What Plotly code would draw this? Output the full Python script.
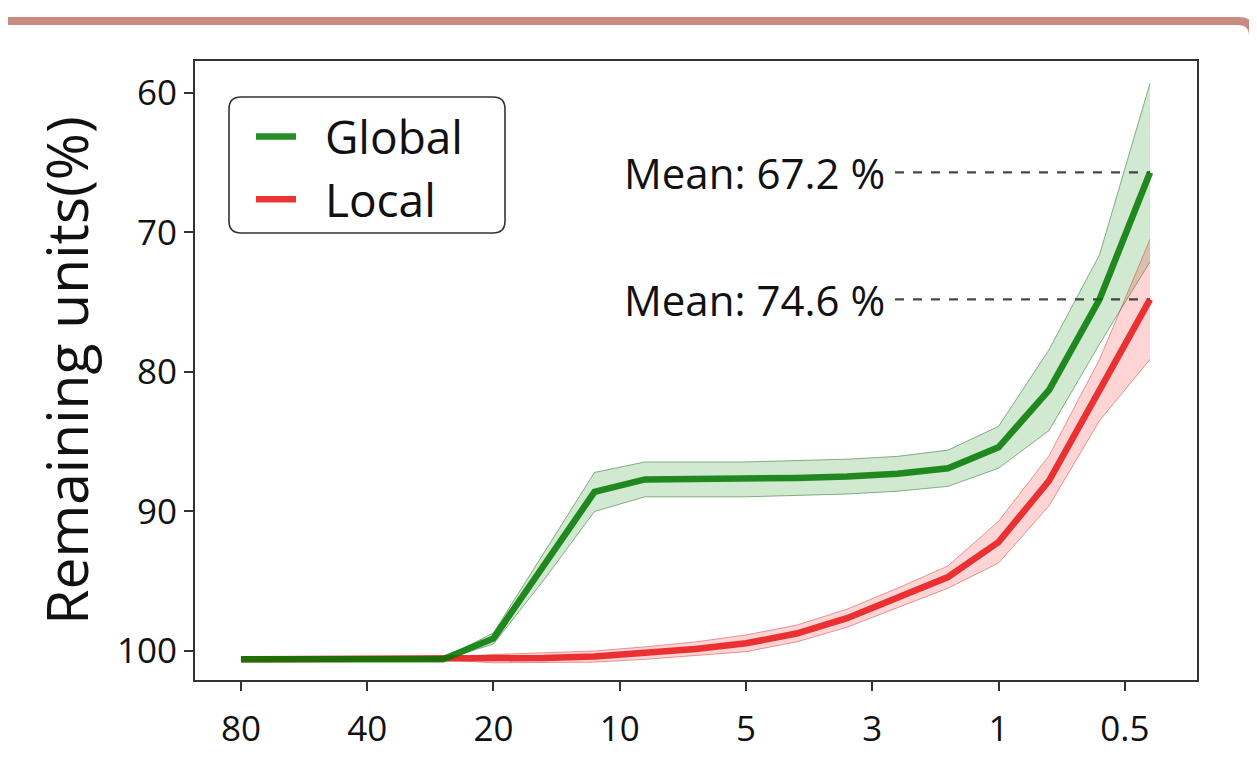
import plotly.graph_objects as go

# ---- data ----
x_index = list(range(19))
tick_pos = [0, 2.5, 5, 7.5, 10, 12.5, 15, 17.5]
tick_labels = ["80", "40", "20", "10", "5", "3", "1", "0.5"]

global_mean = [100.6, 100.6, 100.6, 100.6, 100.6, 99.1, 93.9, 88.6, 87.7, 87.7,
               87.7, 87.6, 87.5, 87.3, 86.9, 85.4, 81.3, 74.8, 65.7]
global_err = [0.0, 0.0, 0.0, 0.0, 0.05, 0.4, 1.0, 1.4, 1.25, 1.25,
              1.25, 1.25, 1.25, 1.25, 1.3, 1.5, 2.9, 3.2, 6.4]
local_mean = [100.6, 100.6, 100.6, 100.6, 100.6, 100.55, 100.5, 100.4, 100.15, 99.85,
              99.45, 98.75, 97.65, 96.2, 94.7, 92.2, 87.8, 81.3, 74.8]
local_err = [0.0, 0.0, 0.0, 0.0, 0.05, 0.3, 0.35, 0.4, 0.45, 0.5,
             0.6, 0.6, 0.65, 0.7, 0.8, 1.5, 1.8, 2.2, 4.3]

mean_labels = ["Mean: 67.2 %", "Mean: 74.6 %"]
mean_levels = [global_mean[-1], local_mean[-1]]
dash_start = 12.95

# page body adds an 8px margin; work in reference-pixel coordinates
OFF = 8
W, H = 1257 - OFF, 768 - OFF
ML, MT = 195 - OFF, 61 - OFF
MR = W - (1197 - OFF)
MB = H - (680 - OFF)
PW, PH = W - ML - MR, H - MT - MB


def px(x):
    return (x - OFF - ML) / PW


def py(y):
    return 1 - (y - OFF - MT) / PH


FONT = "Open Sans"

fig = go.Figure()

bands = [
    (global_mean, global_err, "rgba(0,128,0,0.18)", "rgba(0,90,0,0.45)"),
    (local_mean, local_err, "rgba(255,40,40,0.2)", "rgba(200,40,40,0.45)"),
]
for mean, err, fillc, edgec in bands:
    upper = [m - e for m, e in zip(mean, err)]
    lower = [m + e for m, e in zip(mean, err)]
    fig.add_trace(go.Scatter(x=x_index, y=upper, mode="lines",
                             line=dict(color=edgec, width=1),
                             showlegend=False, hoverinfo="skip"))
    fig.add_trace(go.Scatter(x=x_index, y=lower, mode="lines",
                             line=dict(color=edgec, width=1), fill="tonexty",
                             fillcolor=fillc, showlegend=False, hoverinfo="skip"))

# mean reference lines
for lvl in mean_levels:
    fig.add_trace(go.Scatter(x=[dash_start, x_index[-1]], y=[lvl, lvl], mode="lines",
                             line=dict(color="rgba(40,40,40,0.85)", width=2.2, dash="dash"),
                             showlegend=False, hoverinfo="skip"))

fig.add_trace(go.Scatter(x=x_index, y=local_mean, mode="lines", name="\u00a0\u00a0Local",
                         line=dict(color="rgba(232,30,30,0.9)", width=6.5),
                         legendgroup="b", legendrank=2))
fig.add_trace(go.Scatter(x=x_index, y=global_mean, mode="lines", name="\u00a0\u00a0Global",
                         line=dict(color="rgba(0,120,0,0.85)", width=6.5),
                         legendgroup="a", legendrank=1))

for lbl, lvl in zip(mean_labels, mean_levels):
    fig.add_annotation(x=dash_start - 0.15, y=lvl, xref="x", yref="y", text=lbl,
                       showarrow=False, xanchor="right", yanchor="middle",
                       font=dict(family=FONT, size=42, color="#111"))

# legend rounded box
lx0, lx1, ly0, ly1, r = 229, 505, 97, 233, 12
path = (f"M {px(lx0 + r)},{py(ly0)} L {px(lx1 - r)},{py(ly0)} "
        f"Q {px(lx1)},{py(ly0)} {px(lx1)},{py(ly0 + r)} "
        f"L {px(lx1)},{py(ly1 - r)} Q {px(lx1)},{py(ly1)} {px(lx1 - r)},{py(ly1)} "
        f"L {px(lx0 + r)},{py(ly1)} Q {px(lx0)},{py(ly1)} {px(lx0)},{py(ly1 - r)} "
        f"L {px(lx0)},{py(ly0 + r)} Q {px(lx0)},{py(ly0)} {px(lx0 + r)},{py(ly0)} Z")
fig.add_shape(type="path", path=path, xref="paper", yref="paper",
              line=dict(color="#333", width=1.6), fillcolor="rgba(255,255,255,0.9)",
              layer="above")

# top decorative border
bpath = (f"M {px(0)},{py(21)} L {px(1238)},{py(21)} "
         f"Q {px(1253)},{py(21)} {px(1253)},{py(36)} L {px(1253)},{py(44)}")
fig.add_shape(type="path", path=bpath, xref="paper", yref="paper",
              line=dict(color="#c98a82", width=8))

fig.update_layout(
    width=W, height=H,
    margin=dict(l=ML, r=MR, t=MT, b=MB),
    paper_bgcolor="white", plot_bgcolor="white",
    font=dict(family=FONT, color="#111"),
    showlegend=True,
    legend=dict(x=px(251), y=py(100), xanchor="left", yanchor="top",
                bgcolor="rgba(0,0,0,0)", borderwidth=0,
                font=dict(family=FONT, size=46, color="#111"),
                tracegroupgap=0, itemwidth=40),
    xaxis=dict(range=[-0.91, 18.93], tickmode="array", tickvals=tick_pos,
               ticktext=tick_labels, showgrid=False, zeroline=False,
               showline=True, linecolor="#333", linewidth=2, mirror=True,
               ticks="outside", ticklen=9, tickwidth=1.5, tickcolor="#333",
               ticklabelstandoff=8,
               tickfont=dict(family=FONT, size=35, color="#111")),
    yaxis=dict(range=[102.08, 57.71], tickmode="array",
               tickvals=[60, 70, 80, 90, 100], showgrid=False, zeroline=False,
               showline=True, linecolor="#333", linewidth=2, mirror=True,
               ticks="outside", ticklen=9, tickwidth=1.5, tickcolor="#333",
               tickfont=dict(family=FONT, size=35, color="#111"),
               title=dict(text="Remaining units(%)", standoff=10,
                          font=dict(family=FONT, size=57, color="#111"))),
)

fig.write_html("out.html")
